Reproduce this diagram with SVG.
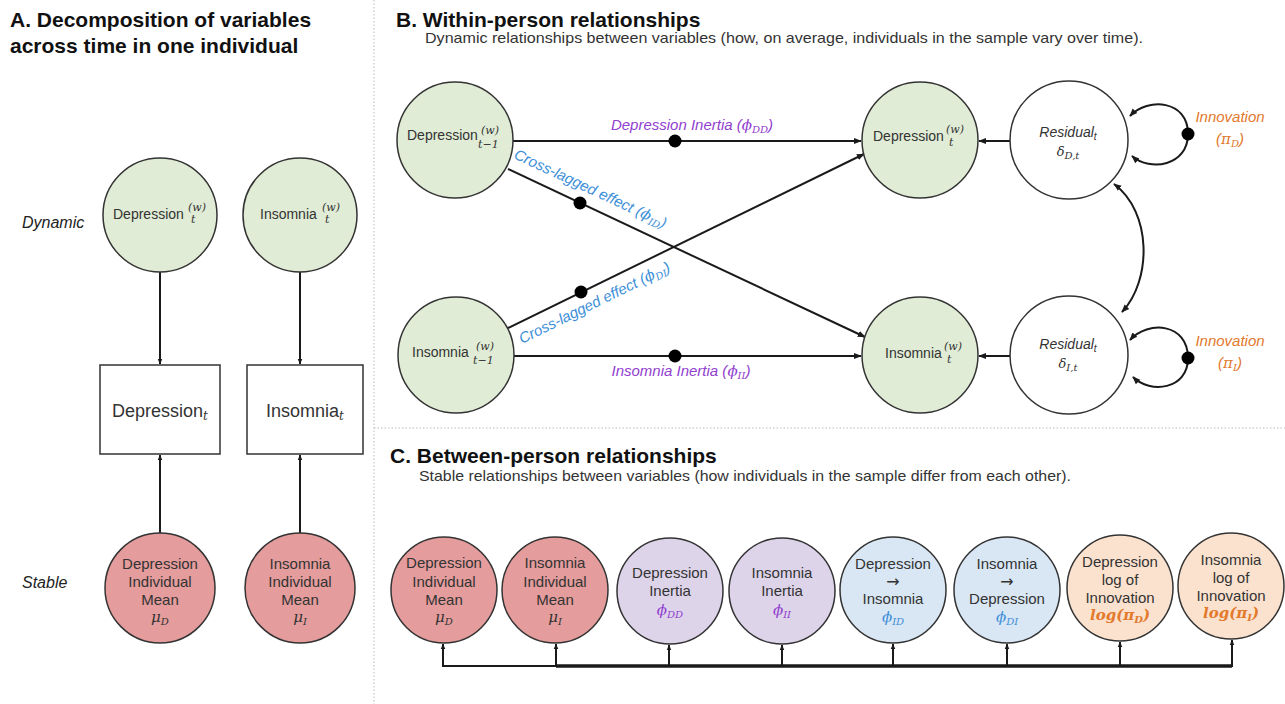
<svg xmlns="http://www.w3.org/2000/svg" width="1285" height="704" viewBox="0 0 1285 704">
<defs>
<marker id="ah" viewBox="0 0 10 10" refX="9" refY="5" markerWidth="8" markerHeight="8" markerUnits="userSpaceOnUse" orient="auto-start-reverse"><path d="M0,1 L10,5 L0,9 z" fill="#1a1a1a"/></marker>
<marker id="ahs" viewBox="0 0 10 10" refX="9" refY="5" markerWidth="6" markerHeight="6" markerUnits="userSpaceOnUse" orient="auto-start-reverse"><path d="M0,1 L10,5 L0,9 z" fill="#1a1a1a"/></marker>
</defs>
<style>
text{font-family:"Liberation Sans",Arial,sans-serif;fill:#333}
.title{font-size:21px;font-weight:bold;fill:#111}
.sub{font-size:15px;fill:#333}
.side{font-size:16px;font-style:italic;fill:#222}
.nt{font-size:14px}
.ct{font-size:15px;text-anchor:middle}
.arr{font-family:"DejaVu Sans",sans-serif;font-size:16px}
.sm{font-size:11px;font-family:"DejaVu Serif","Liberation Serif",serif;font-style:italic}
.m{font-family:"DejaVu Serif","Liberation Serif",serif;font-style:italic}
.green{fill:#e0ecd5;stroke:#333;stroke-width:1.5}
.red{fill:#e49c9c;stroke:#333;stroke-width:1.5}
.purp{fill:#ddd4ea;stroke:#333;stroke-width:1.5}
.blue{fill:#d9e7f5;stroke:#333;stroke-width:1.5}
.peach{fill:#fbe2cf;stroke:#333;stroke-width:1.5}
.white{fill:#fff;stroke:#333;stroke-width:1.5}
.ln{stroke:#1a1a1a;stroke-width:2;fill:none}
.lab{font-size:15px;font-style:italic}
.pc{fill:#9140cf}
.bc{fill:#3d8fd8}
.oc{fill:#e2792c}
.div{stroke:#bbb;stroke-width:1;stroke-dasharray:1.5 2}
</style>
<rect width="1285" height="704" fill="#fff"/>
<line class="div" x1="374" y1="0" x2="374" y2="704"/>
<line class="div" x1="374" y1="428" x2="1285" y2="428"/>

<text class="title" x="10" y="27">A. Decomposition of variables</text>
<text class="title" x="10" y="53">across time in one individual</text>
<text class="title" x="396" y="27">B. Within-person relationships</text>
<text class="sub" x="425" y="43" textLength="718" lengthAdjust="spacingAndGlyphs">Dynamic relationships between variables (how, on average, individuals in the sample vary over time).</text>
<text class="title" x="390" y="463">C. Between-person relationships</text>
<text class="sub" x="419" y="481" textLength="652" lengthAdjust="spacingAndGlyphs">Stable relationships between variables (how individuals in the sample differ from each other).</text>
<text class="side" x="22" y="228">Dynamic</text>
<text class="side" x="22" y="588">Stable</text>

<g id="connectors">
<line class="ln" x1="160" y1="272" x2="160" y2="364" marker-end="url(#ahs)"/>
<line class="ln" x1="300" y1="272" x2="300" y2="364" marker-end="url(#ahs)"/>
<line class="ln" x1="160" y1="533" x2="160" y2="455" marker-end="url(#ahs)"/>
<line class="ln" x1="300" y1="533" x2="300" y2="455" marker-end="url(#ahs)"/>

<line class="ln" x1="513" y1="141" x2="861" y2="141" marker-end="url(#ah)"/>
<line class="ln" x1="514" y1="356" x2="861" y2="356" marker-end="url(#ah)"/>
<line class="ln" x1="508" y1="169" x2="865" y2="337" marker-end="url(#ah)"/>
<line class="ln" x1="508" y1="328" x2="864" y2="154" marker-end="url(#ah)"/>
<line class="ln" x1="1010" y1="141" x2="979" y2="141" marker-end="url(#ah)"/>
<line class="ln" x1="1010" y1="356" x2="979" y2="356" marker-end="url(#ah)"/>
<path class="ln" d="M1130,116 C1148,97 1188,100 1188,134 C1188,166 1150,172 1132,156" marker-start="url(#ah)" marker-end="url(#ah)"/>
<path class="ln" d="M1130,340 C1148,320 1188,323 1188,358 C1188,390 1150,394 1133,377" marker-start="url(#ah)" marker-end="url(#ah)"/>
<path class="ln" d="M1114,184 C1152,212 1152,280 1122,312" marker-start="url(#ah)" marker-end="url(#ah)"/>
<circle cx="675" cy="141" r="6.5" fill="#000"/>
<circle cx="675" cy="356" r="6.5" fill="#000"/>
<circle cx="580" cy="203" r="6.5" fill="#000"/>
<circle cx="581" cy="292" r="6.5" fill="#000"/>
<circle cx="1188" cy="134" r="6.5" fill="#000"/>
<circle cx="1188" cy="358" r="6.5" fill="#000"/>

<polyline points="443,666 556,666" fill="none" stroke="#1a1a1a" stroke-width="2"/>
<polyline points="556,666 1232,666" fill="none" stroke="#1a1a1a" stroke-width="3.5"/>
<line class="ln" x1="443" y1="667" x2="443" y2="644" marker-end="url(#ahs)"/>
<line class="ln" x1="556" y1="667" x2="556" y2="644" marker-end="url(#ahs)"/>
<line class="ln" x1="669" y1="667" x2="669" y2="645" marker-end="url(#ahs)"/>
<line class="ln" x1="782" y1="667" x2="782" y2="645" marker-end="url(#ahs)"/>
<line class="ln" x1="893" y1="667" x2="893" y2="644" marker-end="url(#ahs)"/>
<line class="ln" x1="1007" y1="667" x2="1007" y2="644" marker-end="url(#ahs)"/>
<line class="ln" x1="1120" y1="667" x2="1120" y2="642" marker-end="url(#ahs)"/>
<line class="ln" x1="1232" y1="667" x2="1232" y2="640" marker-end="url(#ahs)"/>

<text class="lab pc" x="692" y="130" text-anchor="middle">Depression Inertia (<tspan class="m">ϕ</tspan><tspan class="m" font-size="10" dy="3">DD</tspan><tspan dy="-3">)</tspan></text>
<text class="lab pc" x="681" y="376" text-anchor="middle">Insomnia Inertia (<tspan class="m">ϕ</tspan><tspan class="m" font-size="10" dy="3">II</tspan><tspan dy="-3">)</tspan></text>
<text class="lab bc" transform="translate(513,158) rotate(25)">Cross-lagged effect (<tspan class="m">ϕ</tspan><tspan class="m" font-size="10" dy="3">ID</tspan><tspan dy="-3">)</tspan></text>
<text class="lab bc" transform="translate(522,344) rotate(-26.2)">Cross-lagged effect (<tspan class="m">ϕ</tspan><tspan class="m" font-size="10" dy="3">DI</tspan><tspan dy="-3">)</tspan></text>
<text class="lab oc" x="1230" y="122" text-anchor="middle">Innovation</text>
<text class="lab oc" x="1230" y="144" text-anchor="middle">(<tspan class="m">π</tspan><tspan class="m" font-size="10" dy="3">D</tspan><tspan dy="-3">)</tspan></text>
<text class="lab oc" x="1230" y="346" text-anchor="middle">Innovation</text>
<text class="lab oc" x="1230" y="368" text-anchor="middle">(<tspan class="m">π</tspan><tspan class="m" font-size="10" dy="3">I</tspan><tspan dy="-3">)</tspan></text>
</g>

<g id="a-dep-w">
<circle class="green" cx="160" cy="215" r="57"/>
<text class="nt" x="113" y="219">Depression</text>
<text class="sm" x="188" y="211">(w)</text>
<text class="sm" x="191" y="223">t</text>
</g>
<g id="a-ins-w">
<circle class="green" cx="300" cy="215" r="57"/>
<text class="nt" x="260" y="219">Insomnia</text>
<text class="sm" x="322" y="211">(w)</text>
<text class="sm" x="325" y="223">t</text>
</g>
<g id="a-dep-obs">
<rect class="white" x="100" y="365" width="120" height="89"/>
<text x="160" y="417" font-size="18" text-anchor="middle">Depression<tspan class="m" font-size="12" dy="3">t</tspan></text>
</g>
<g id="a-ins-obs">
<rect class="white" x="247" y="365" width="116" height="89"/>
<text x="305" y="417" font-size="18" text-anchor="middle">Insomnia<tspan class="m" font-size="12" dy="3">t</tspan></text>
</g>
<g id="a-dep-mean">
<circle class="red" cx="160" cy="588" r="55"/>
<text class="ct" x="160" y="569">Depression</text>
<text class="ct" x="160" y="587">Individual</text>
<text class="ct" x="160" y="605">Mean</text>
<text class="ct m" x="160" y="622" font-size="13">μ<tspan font-size="10" dy="3">D</tspan></text>
</g>
<g id="a-ins-mean">
<circle class="red" cx="300" cy="588" r="55"/>
<text class="ct" x="300" y="569">Insomnia</text>
<text class="ct" x="300" y="587">Individual</text>
<text class="ct" x="300" y="605">Mean</text>
<text class="ct m" x="300" y="622" font-size="13">μ<tspan font-size="10" dy="3">I</tspan></text>
</g>

<g id="b-dep-t1">
<circle class="green" cx="455" cy="140" r="58"/>
<text class="nt" x="407" y="140">Depression</text>
<text class="sm" x="481" y="134">(w)</text>
<text class="sm" x="478" y="148">t−1</text>
</g>
<g id="b-ins-t1">
<circle class="green" cx="456" cy="355" r="58"/>
<text class="nt" x="412" y="357">Insomnia</text>
<text class="sm" x="476" y="350">(w)</text>
<text class="sm" x="473" y="364">t−1</text>
</g>
<g id="b-dep-t">
<circle class="green" cx="920" cy="140" r="58"/>
<text class="nt" x="873" y="141">Depression</text>
<text class="sm" x="946" y="133">(w)</text>
<text class="sm" x="949" y="146">t</text>
</g>
<g id="b-ins-t">
<circle class="green" cx="920" cy="355" r="58"/>
<text class="nt" x="885" y="358">Insomnia</text>
<text class="sm" x="944" y="350">(w)</text>
<text class="sm" x="947" y="363">t</text>
</g>
<g id="b-res-d">
<circle class="white" cx="1069" cy="140" r="59"/>
<text class="nt" x="1068" y="137" text-anchor="middle" font-style="italic">Residual<tspan font-size="10" dy="3">t</tspan></text>
<text class="m" x="1068" y="156" text-anchor="middle" font-size="13">δ<tspan font-size="10" dy="3">D,t</tspan></text>
</g>
<g id="b-res-i">
<circle class="white" cx="1069" cy="355" r="59"/>
<text class="nt" x="1068" y="349" text-anchor="middle" font-style="italic">Residual<tspan font-size="10" dy="3">t</tspan></text>
<text class="m" x="1068" y="368" text-anchor="middle" font-size="13">δ<tspan font-size="10" dy="3">I,t</tspan></text>
</g>

<g id="c-dep-mean">
<circle class="red" cx="444" cy="590" r="53"/>
<text class="ct" x="444" y="568">Depression</text>
<text class="ct" x="444" y="587">Individual</text>
<text class="ct" x="444" y="605">Mean</text>
<text class="ct m" x="444" y="622" font-size="13">μ<tspan font-size="10" dy="3">D</tspan></text>
</g>
<g id="c-ins-mean">
<circle class="red" cx="555" cy="590" r="53"/>
<text class="ct" x="555" y="568">Insomnia</text>
<text class="ct" x="555" y="587">Individual</text>
<text class="ct" x="555" y="605">Mean</text>
<text class="ct m" x="555" y="622" font-size="13">μ<tspan font-size="10" dy="3">I</tspan></text>
</g>
<g id="c-dep-inertia">
<circle class="purp" cx="670" cy="591" r="53"/>
<text class="ct" x="670" y="578">Depression</text>
<text class="ct" x="670" y="596">Inertia</text>
<text class="ct m pc" x="670" y="615" font-size="14">ϕ<tspan font-size="10" dy="3">DD</tspan></text>
</g>
<g id="c-ins-inertia">
<circle class="purp" cx="782" cy="591" r="53"/>
<text class="ct" x="782" y="578">Insomnia</text>
<text class="ct" x="782" y="596">Inertia</text>
<text class="ct m pc" x="782" y="615" font-size="14">ϕ<tspan font-size="10" dy="3">II</tspan></text>
</g>
<g id="c-dep-ins">
<circle class="blue" cx="893" cy="590" r="53"/>
<text class="ct" x="893" y="569">Depression</text>
<text class="ct arr" x="893" y="587">→</text>
<text class="ct" x="893" y="604">Insomnia</text>
<text class="ct m bc" x="893" y="622" font-size="14">ϕ<tspan font-size="10" dy="3">ID</tspan></text>
</g>
<g id="c-ins-dep">
<circle class="blue" cx="1007" cy="590" r="53"/>
<text class="ct" x="1007" y="569">Insomnia</text>
<text class="ct arr" x="1007" y="587">→</text>
<text class="ct" x="1007" y="604">Depression</text>
<text class="ct m bc" x="1007" y="622" font-size="14">ϕ<tspan font-size="10" dy="3">DI</tspan></text>
</g>
<g id="c-dep-innov">
<circle class="peach" cx="1120" cy="588" r="53"/>
<text class="ct" x="1120" y="567">Depression</text>
<text class="ct" x="1120" y="585">log of</text>
<text class="ct" x="1120" y="603">Innovation</text>
<text class="ct m oc" x="1120" y="620" font-size="14" font-weight="bold">log(π<tspan font-size="10" dy="3">D</tspan><tspan dy="-3">)</tspan></text>
</g>
<g id="c-ins-innov">
<circle class="peach" cx="1231" cy="586" r="53"/>
<text class="ct" x="1231" y="565">Insomnia</text>
<text class="ct" x="1231" y="583">log of</text>
<text class="ct" x="1231" y="601">Innovation</text>
<text class="ct m oc" x="1231" y="618" font-size="14" font-weight="bold">log(π<tspan font-size="10" dy="3">I</tspan><tspan dy="-3">)</tspan></text>
</g>
</svg>
